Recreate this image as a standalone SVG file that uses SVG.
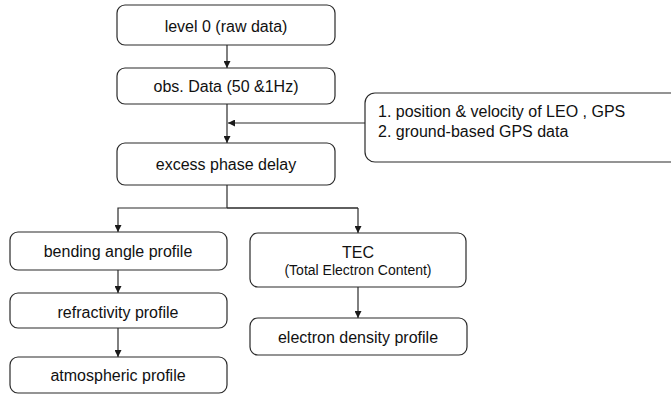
<svg xmlns="http://www.w3.org/2000/svg" width="671" height="395" viewBox="0 0 671 395">
<style>
.box{fill:#fff;stroke:#2a2a2a;stroke-width:1.2}
.t{font-family:"Liberation Sans",Arial,sans-serif;font-size:16px;fill:#111;text-anchor:middle}
.s{font-size:14px}
.l{text-anchor:start}
.c{fill:none;stroke:#2a2a2a;stroke-width:1.2}
</style>
<defs>
<marker id="ah" viewBox="0 0 10 10" refX="10" refY="5" markerWidth="7" markerHeight="7" markerUnits="userSpaceOnUse" orient="auto">
<path d="M0,0 L10,5 L0,10 z" fill="#1a1a1a"/>
</marker>
</defs>
<rect width="671" height="395" fill="#fff"/>
<g id="connectors">
<line class="c" x1="227" y1="45" x2="227" y2="68" marker-end="url(#ah)"/>
<line class="c" x1="227" y1="104" x2="227" y2="143" marker-end="url(#ah)"/>
<line class="c" x1="365" y1="123" x2="228" y2="123" marker-end="url(#ah)"/>
<polyline class="c" points="227,185 227,208"/>
<polyline class="c" points="358,208 118,208 118,232" marker-end="url(#ah)"/>
<line class="c" x1="227" y1="208" x2="358" y2="208"/>
<line class="c" x1="358" y1="208" x2="358" y2="233" marker-end="url(#ah)"/>
<line class="c" x1="118" y1="270" x2="118" y2="293" marker-end="url(#ah)"/>
<line class="c" x1="118" y1="328" x2="118" y2="357" marker-end="url(#ah)"/>
<line class="c" x1="358" y1="287" x2="358" y2="318" marker-end="url(#ah)"/>
</g>
<g id="n1"><rect class="box" x="117" y="5" width="218" height="40" rx="8"/><text class="t" x="226" y="32">level 0 (raw data)</text></g>
<g id="n2"><rect class="box" x="117" y="68" width="218" height="36" rx="8"/><text class="t" x="226" y="92">obs. Data (50 &amp;1Hz)</text></g>
<g id="n3"><rect class="box" x="117" y="143" width="218" height="42" rx="8"/><text class="t" x="226" y="170">excess phase delay</text></g>
<g id="input"><rect class="box" x="365" y="93" width="320" height="69" rx="10"/><text class="t l" x="378" y="117">1. position &amp; velocity of LEO , GPS</text><text class="t l" x="378" y="137">2. ground-based GPS data</text></g>
<g id="n4"><rect class="box" x="10" y="232" width="217" height="38" rx="8"/><text class="t" x="118" y="257">bending angle profile</text></g>
<g id="n5"><rect class="box" x="10" y="293" width="217" height="35" rx="8"/><text class="t" x="118" y="318">refractivity profile</text></g>
<g id="n6"><rect class="box" x="10" y="357" width="217" height="36" rx="8"/><text class="t" x="118" y="381">atmospheric profile</text></g>
<g id="n7"><rect class="box" x="250" y="233" width="216" height="54" rx="8"/><text class="t" x="358" y="258">TEC</text><text class="t s" x="358" y="275">(Total Electron Content)</text></g>
<g id="n8"><rect class="box" x="250" y="318" width="217" height="37" rx="8"/><text class="t" x="358" y="343">electron density profile</text></g>
</svg>
